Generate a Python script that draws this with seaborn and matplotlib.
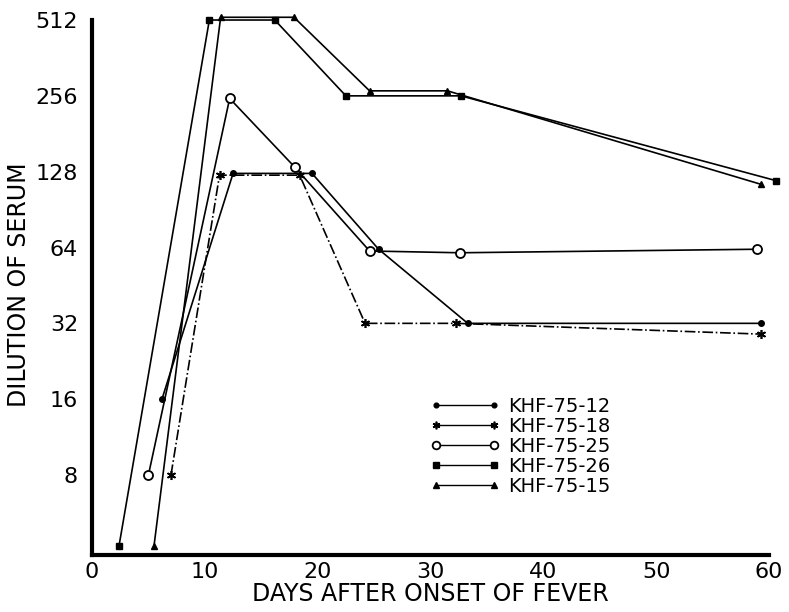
import numpy as np
import pandas as pd
import matplotlib
matplotlib.use("Agg")
import matplotlib.pyplot as plt
from matplotlib.lines import Line2D
from matplotlib.ticker import FixedLocator, NullFormatter
import seaborn as sns

sns.set_style("white")
plt.rcParams["font.family"] = ["DejaVu Sans"]
for k in ["text.color", "axes.labelcolor", "xtick.color", "ytick.color", "axes.edgecolor"]:
    plt.rcParams[k] = "black"

# ---- data (days after onset, serum dilution) ----
# values below 8 are plotted on the floor of the chart
day_12 = [6.2, 12.5, 19.5, 25.4, 33.3, 59.3]
tit_12 = [16, 126, 126, 63, 32, 32]

day_18 = [7.0, 11.3, 18.4, 24.2, 32.3, 59.3]
tit_18 = [8, 124, 124, 32, 32, 29]

day_25 = [5.0, 12.2, 18.0, 24.6, 32.6, 58.9]
tit_25 = [8, 250, 133, 62, 61, 63]

day_26 = [2.4, 10.4, 16.2, 22.5, 32.7, 60.6]
tit_26 = [4.2, 512, 512, 256, 256, 118]

day_15 = [5.5, 11.4, 17.9, 24.6, 31.5, 59.3]
tit_15 = [4.2, 525, 525, 268, 268, 114]

labels = ["KHF-75-12", "KHF-75-18", "KHF-75-25", "KHF-75-26", "KHF-75-15"]
y_ticks = [8, 16, 32, 64, 128, 256, 512]
x_ticks = [0, 10, 20, 30, 40, 50, 60]

series = [
    (day_12, tit_12, dict(marker="o", ms=4, mfc="black", ls="-")),
    (day_18, tit_18, dict(marker=(6, 2, 0), ms=6.5, mew=1.2, ls="-.")),
    (day_25, tit_25, dict(marker="o", ms=6.5, mfc="white", mew=1.3, ls="-")),
    (day_26, tit_26, dict(marker="s", ms=5, mfc="black", ls="-")),
    (day_15, tit_15, dict(marker="^", ms=5, mfc="black", ls="-")),
]

fig = plt.figure(figsize=(7.89, 6.12), dpi=100)
ax = fig.add_axes([0.1166, 0.0931, 0.8581, 0.8837])

for (d, t, st), lab in zip(series, labels):
    df = pd.DataFrame({"day": d, "titer": t})
    sns.lineplot(data=df, x="day", y="titer", ax=ax, color="black", lw=1.2,
                 marker=st["marker"], markersize=st["ms"],
                 markerfacecolor=st.get("mfc", "black"), markeredgecolor="black",
                 markeredgewidth=st.get("mew", 1.0), linestyle=st["ls"],
                 clip_on=False, estimator=None, legend=False)

ax.set_yscale("log", base=2)
ax.set_ylim(3.85, 540)
ax.set_xlim(0, 60)
ax.yaxis.set_major_locator(FixedLocator(y_ticks))
ax.yaxis.set_minor_locator(FixedLocator([]))
ax.set_yticklabels([str(v) for v in y_ticks])
ax.xaxis.set_major_locator(FixedLocator(x_ticks))
ax.xaxis.set_minor_locator(FixedLocator([5, 15, 25, 35, 45, 55]))
ax.xaxis.set_minor_formatter(NullFormatter())

for s in ["top", "right"]:
    ax.spines[s].set_visible(False)
ax.spines["left"].set_linewidth(3)
ax.spines["bottom"].set_linewidth(3)
ax.spines["left"].set_bounds(3.85, 512)
ax.tick_params(axis="x", which="both", direction="in", length=9, width=1.5,
               labelsize=16, pad=5)
ax.tick_params(axis="y", direction="out", length=8, width=1.5, labelsize=16, pad=2)

ax.set_xlabel("DAYS AFTER ONSET OF FEVER", fontsize=17, labelpad=0)
ax.set_ylabel("DILUTION OF SERUM", fontsize=17, labelpad=3)

# legend: all entries drawn solid with markers at both ends
handles = []
for (d, t, st) in series:
    handles.append(Line2D([], [], color="black", lw=1.0, ls="-",
                          marker=st["marker"], markersize=st["ms"] * 0.85,
                          markerfacecolor=st.get("mfc", "black"),
                          markeredgecolor="black",
                          markeredgewidth=st.get("mew", 1.0)))
fig.legend(handles, labels, loc="upper left", bbox_to_anchor=(430 / 789, 1 - 397 / 612),
           frameon=False, fontsize=14, numpoints=2, handlelength=3.6,
           handletextpad=0.4, labelspacing=0.05, borderpad=0, borderaxespad=0)

fig.savefig("out.png", dpi=100)
